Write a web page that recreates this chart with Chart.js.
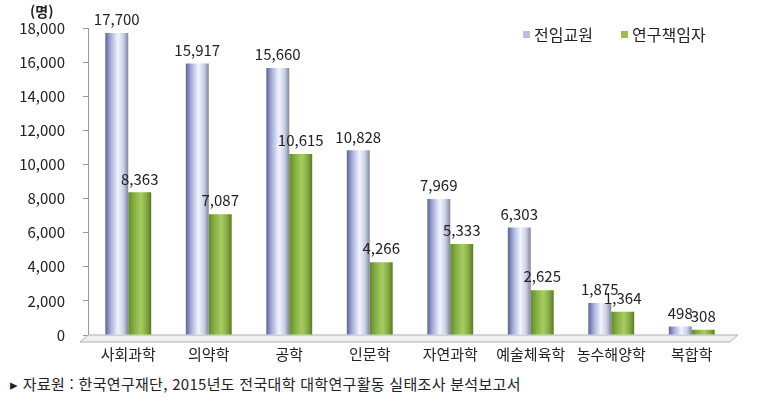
<!DOCTYPE html>
<html lang="ko">
<head>
<meta charset="UTF-8">
<title>분야별 전임교원 및 연구책임자 수</title>
<script src="https://cdn.jsdelivr.net/npm/chart.js"></script>
<style>
    body {
        margin: 0;
        padding: 0;
        background: #ffffff;
        font-family: "Noto Sans CJK KR", sans-serif;
    }
    .chart-box {
        position: relative;
        width: 762px;
        height: 368px;
    }
    .source {
        margin: 5px 0 0 10px;
        font-size: 15px;
        letter-spacing: 0.3px;
        color: #222;
    }
</style>
</head>
<body>
<div class="chart-box">
    <canvas id="facultyChart"></canvas>
</div>
<div class="source">▸ 자료원 : 한국연구재단, 2015년도 전국대학 대학연구활동 실태조사 분석보고서</div>

<script>
// data
const categories = ['사회과학', '의약학', '공학', '인문학', '자연과학', '예술체육학', '농수해양학', '복합학'];
const fullTimeFaculty = [17700, 15917, 15660, 10828, 7969, 6303, 1875, 498];
const principalInvestigators = [8363, 7087, 10615, 4266, 5333, 2625, 1364, 308];
const seriesNames = ['전임교원', '연구책임자'];
const yTicks = [0, 2000, 4000, 6000, 8000, 10000, 12000, 14000, 16000, 18000];

const FONT = '"Noto Sans CJK KR", sans-serif';

// horizontal gradient per bar, so it looks like a cylinder
const barShading = {
    id: 'barShading',
    beforeDatasetsDraw(chart) {
        const ctx = chart.ctx;
        chart.data.datasets.forEach((ds, i) => {
            const meta = chart.getDatasetMeta(i);
            meta.data.forEach(bar => {
                const x0 = bar.x - bar.width / 2;
                const x1 = bar.x + bar.width / 2;
                const g = ctx.createLinearGradient(x0, 0, x1, 0);
                if (i === 0) {
                    g.addColorStop(0, '#5d6597');
                    g.addColorStop(0.25, '#a9b2dc');
                    g.addColorStop(0.55, '#f2f5ff');
                    g.addColorStop(0.8, '#c9cee4');
                    g.addColorStop(1, '#7f8499');
                } else {
                    g.addColorStop(0, '#648a2c');
                    g.addColorStop(0.3, '#8cb548');
                    g.addColorStop(0.55, '#a7cc63');
                    g.addColorStop(0.8, '#84ab40');
                    g.addColorStop(1, '#587a25');
                }
                // options are shared between bars, so give each its own copy
                bar.options = Object.assign({}, bar.options, { backgroundColor: g });
            });
        });
    }
};

// floor under the bars
const floorPlugin = {
    id: 'floor',
    beforeDatasetsDraw(chart) {
        const { ctx, chartArea } = chart;
        const y = chartArea.bottom;
        ctx.save();
        ctx.beginPath();
        ctx.moveTo(chartArea.left - 8, y + 7);
        ctx.lineTo(chartArea.right - 2, y + 7);
        ctx.lineTo(chartArea.right + 6, y);
        ctx.lineTo(chartArea.left, y);
        ctx.closePath();
        ctx.fillStyle = '#eeeeee';
        ctx.fill();
        ctx.strokeStyle = '#b0b0b0';
        ctx.lineWidth = 1;
        ctx.stroke();
        ctx.restore();
    }
};

// value labels, unit label and legend
const textPlugin = {
    id: 'texts',
    afterDatasetsDraw(chart) {
        const ctx = chart.ctx;
        ctx.save();
        ctx.font = '15px ' + FONT;
        ctx.fillStyle = '#222';
        ctx.textAlign = 'center';
        ctx.textBaseline = 'bottom';
        chart.data.datasets.forEach((ds, i) => {
            const meta = chart.getDatasetMeta(i);
            meta.data.forEach((bar, j) => {
                ctx.fillText(ds.data[j].toLocaleString('en-US'), bar.x, bar.y - 6);
            });
        });

        // unit
        ctx.font = 'bold 14px ' + FONT;
        ctx.textAlign = 'left';
        ctx.textBaseline = 'middle';
        ctx.fillText('(명)', 30, 12);

        // legend
        const colors = ['#b9c0e0', '#9bbb59'];
        const legendX = [523, 621];
        ctx.font = '16px ' + FONT;
        seriesNames.forEach((name, i) => {
            ctx.fillStyle = colors[i];
            ctx.fillRect(legendX[i], 31, 7, 7);
            ctx.fillStyle = '#222';
            ctx.fillText(name, legendX[i] + 11, 35);
        });
        ctx.restore();
    }
};

new Chart(document.getElementById('facultyChart'), {
    type: 'bar',
    data: {
        labels: categories,
        datasets: [
            {
                label: seriesNames[0],
                data: fullTimeFaculty,
                backgroundColor: '#b4bce0',
                categoryPercentage: 0.57,
                barPercentage: 1.0
            },
            {
                label: seriesNames[1],
                data: principalInvestigators,
                backgroundColor: '#8ab340',
                categoryPercentage: 0.57,
                barPercentage: 1.0
            }
        ]
    },
    options: {
        responsive: true,
        maintainAspectRatio: false,
        animation: false,
        layout: {
            padding: { top: 28, right: 30, left: 0, bottom: 0 }
        },
        plugins: {
            legend: { display: false },
            tooltip: { enabled: false }
        },
        scales: {
            x: {
                grid: {
                    display: true,
                    drawOnChartArea: false,
                    drawTicks: true,
                    tickLength: 5,
                    color: '#aaaaaa'
                },
                border: { display: false },
                ticks: {
                    color: '#222',
                    font: { family: FONT, size: 15 },
                    padding: 5,
                    maxRotation: 0
                }
            },
            y: {
                min: 0,
                max: 18000,
                afterBuildTicks(scale) {
                    scale.ticks = yTicks.map(v => ({ value: v }));
                },
                afterFit(scale) {
                    scale.width = 88;
                },
                grid: {
                    display: true,
                    drawOnChartArea: false,
                    drawTicks: true,
                    tickLength: 5,
                    color: '#999999'
                },
                border: { display: true, color: '#999999' },
                ticks: {
                    color: '#222',
                    font: { family: FONT, size: 15 },
                    padding: 18,
                    callback: v => v.toLocaleString('en-US')
                }
            }
        }
    },
    plugins: [barShading, floorPlugin, textPlugin]
});
</script>
</body>
</html>
